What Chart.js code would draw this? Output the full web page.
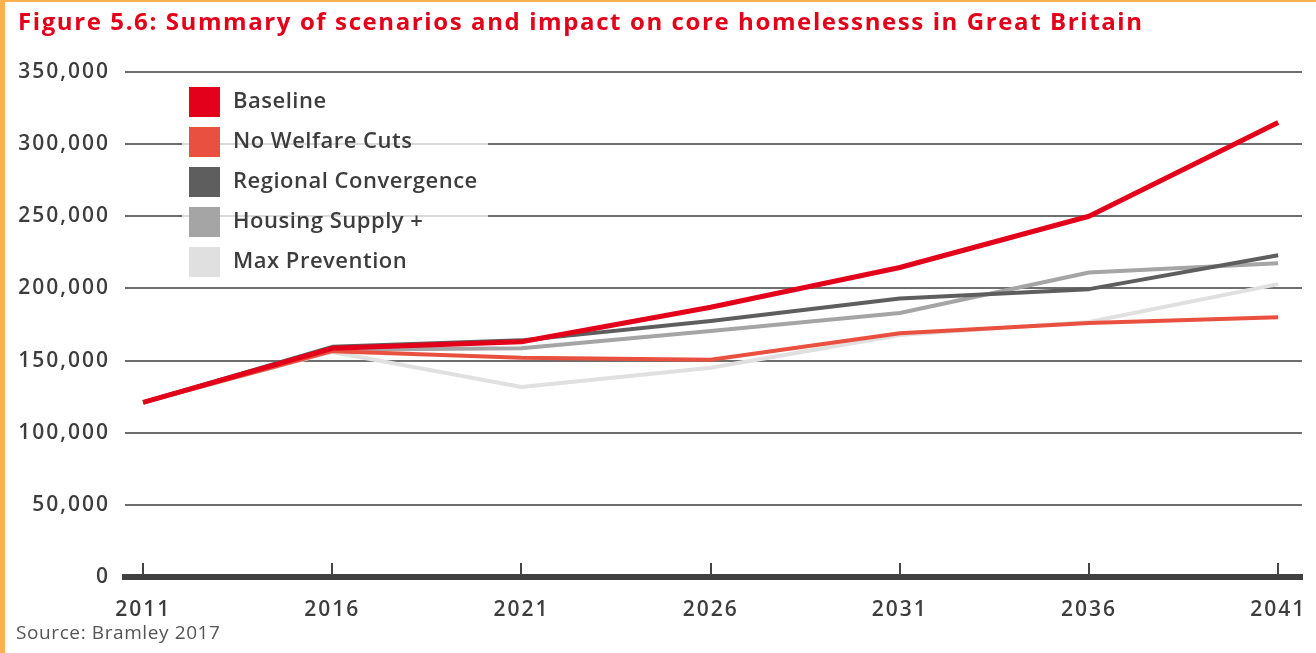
<!DOCTYPE html>
<html>
<head>
<meta charset="utf-8">
<script src="https://cdn.jsdelivr.net/npm/chart.js@4"></script>
<style>
  html, body { margin: 0; padding: 0; background: #fff; }
  #wrap { position: relative; width: 1316px; height: 653px; }
  #frame { position: absolute; left: 0; top: 0; width: 1316px; height: 653px;
           border-left: 5px solid #fbb24e; border-top: 2px solid #fbb24e; box-sizing: border-box; pointer-events: none; }
</style>
</head>
<body>
<div id="wrap">
  <canvas id="homelessChart"></canvas>
  <div id="frame"></div>
</div>
<script>
var years = [2011, 2016, 2021, 2026, 2031, 2036, 2041];
var yTicks = [0, 50000, 100000, 150000, 200000, 250000, 300000, 350000];

var seriesLabels = ['Baseline', 'No Welfare Cuts', 'Regional Convergence', 'Housing Supply +', 'Max Prevention'];
var seriesColors = ['#e2001a', '#e9503f', '#5e5e5e', '#a5a5a5', '#e0e0e0'];

var baseline          = [121000, 158500, 163000, 187000, 214500, 250000, 315000];
var noWelfareCuts     = [121000, 156500, 152000, 150500, 169000, 176000, 180000];
var regionalConverge  = [121000, 159500, 164000, 177500, 193000, 199500, 223000];
var housingSupply     = [121000, 157500, 158500, 170500, 183000, 211000, 217500];
var maxPrevention     = [121000, 156000, 131700, 145000, 167700, 176700, 203000];

var titleText = 'Figure 5.6: Summary of scenarios and impact on core homelessness in Great Britain';
var sourceText = 'Source: Bramley 2017';

var FONT = '"Open Sans", "DejaVu Sans", sans-serif';

function toPoints(vals) {
	let pts = [];
	for (let i = 0; i < years.length; i++) {
		pts.push({x: years[i], y: vals[i]});
	}
	return pts;
}

let allSeries = [baseline, noWelfareCuts, regionalConverge, housingSupply, maxPrevention];
let datasets = [];
for (let i = 0; i < allSeries.length; i++) {
	datasets.push({
		label: seriesLabels[i],
		data: toPoints(allSeries[i]),
		borderColor: seriesColors[i],
		backgroundColor: seriesColors[i],
		borderWidth: i === 0 ? 5 : 4,
		pointRadius: 0,
		tension: 0,
		borderJoinStyle: 'round'
	});
}

// the original uses a wider typeface, so spread the letters a little
const spacingPlugin = {
	id: 'spacing',
	beforeDraw(chart) {
		chart.ctx.letterSpacing = '2px';
	}
};

// title, upward tick marks on the x axis, legend box and source line
const extrasPlugin = {
	id: 'extras',
	afterDraw(chart) {
		const ctx = chart.ctx;
		const xs = chart.scales.x;
		const area = chart.chartArea;
		ctx.save();

		ctx.letterSpacing = '1.6px';
		ctx.font = 'bold 24px ' + FONT;
		ctx.fillStyle = '#e2001a';
		ctx.textAlign = 'left';
		ctx.textBaseline = 'alphabetic';
		ctx.fillText(titleText, 18, 30);

		ctx.strokeStyle = '#444';
		ctx.lineWidth = 2;
		years.forEach(function (yr) {
			let px = Math.round(xs.getPixelForValue(yr));
			ctx.beginPath();
			ctx.moveTo(px, area.bottom);
			ctx.lineTo(px, area.bottom - 14);
			ctx.stroke();
		});

		// legend
		ctx.fillStyle = 'rgba(255,255,255,0.75)';
		ctx.fillRect(182, 84, 306, 196);
		ctx.letterSpacing = '0.5px';
		ctx.font = '600 22px ' + FONT;
		ctx.textBaseline = 'middle';
		chart.data.datasets.forEach(function (ds, i) {
			let cy = 102 + i * 40;
			ctx.fillStyle = ds.borderColor;
			ctx.fillRect(189, cy - 15, 31, 30);
			ctx.fillStyle = '#3d3d3d';
			ctx.fillText(ds.label, 233, cy);
		});

		ctx.letterSpacing = '0.6px';
		ctx.font = '19px ' + FONT;
		ctx.fillStyle = '#555';
		ctx.textBaseline = 'middle';
		ctx.fillText(sourceText, 16, 634);
		ctx.restore();
	}
};

const config = {
	type: 'line',
	data: { datasets: datasets },
	options: {
		responsive: true,
		maintainAspectRatio: false,
		animation: false,
		layout: { padding: { left: 0, right: 14, top: 72, bottom: 0 } },
		scales: {
			x: {
				type: 'linear',
				min: 2010.52,
				max: 2041.63,
				afterBuildTicks: function (axis) {
					axis.ticks = years.map(v => ({value: v}));
				},
				afterFit: function (axis) {
					axis.height = 76;
					axis.paddingLeft = 0;
					axis.paddingRight = 0;
				},
				grid: { display: false, drawTicks: false },
				border: { display: true, color: '#404040', width: 6 },
				ticks: {
					padding: 20,
					color: '#3d3d3d',
					font: { family: FONT, size: 21, weight: '600' },
					maxRotation: 0,
					autoSkip: false,
					callback: v => String(v)
				}
			},
			y: {
				min: 0,
				max: 350000,
				afterBuildTicks: function (axis) {
					axis.ticks = yTicks.map(v => ({value: v}));
				},
				afterFit: function (axis) { axis.width = 125; },
				grid: {
					drawTicks: false,
					color: '#6e6e6e',
					lineWidth: c => (c.tick && c.tick.value === 0) ? 0 : 2
				},
				border: { display: false },
				ticks: {
					padding: 15,
					color: '#3d3d3d',
					font: { family: FONT, size: 21, weight: '600' },
					callback: v => v.toLocaleString('en-US')
				}
			}
		},
		plugins: {
			legend: { display: false },
			tooltip: { enabled: false },
			title: { display: false }
		}
	},
	plugins: [spacingPlugin, extrasPlugin]
};

new Chart(document.getElementById('homelessChart'), config);
</script>
</body>
</html>
